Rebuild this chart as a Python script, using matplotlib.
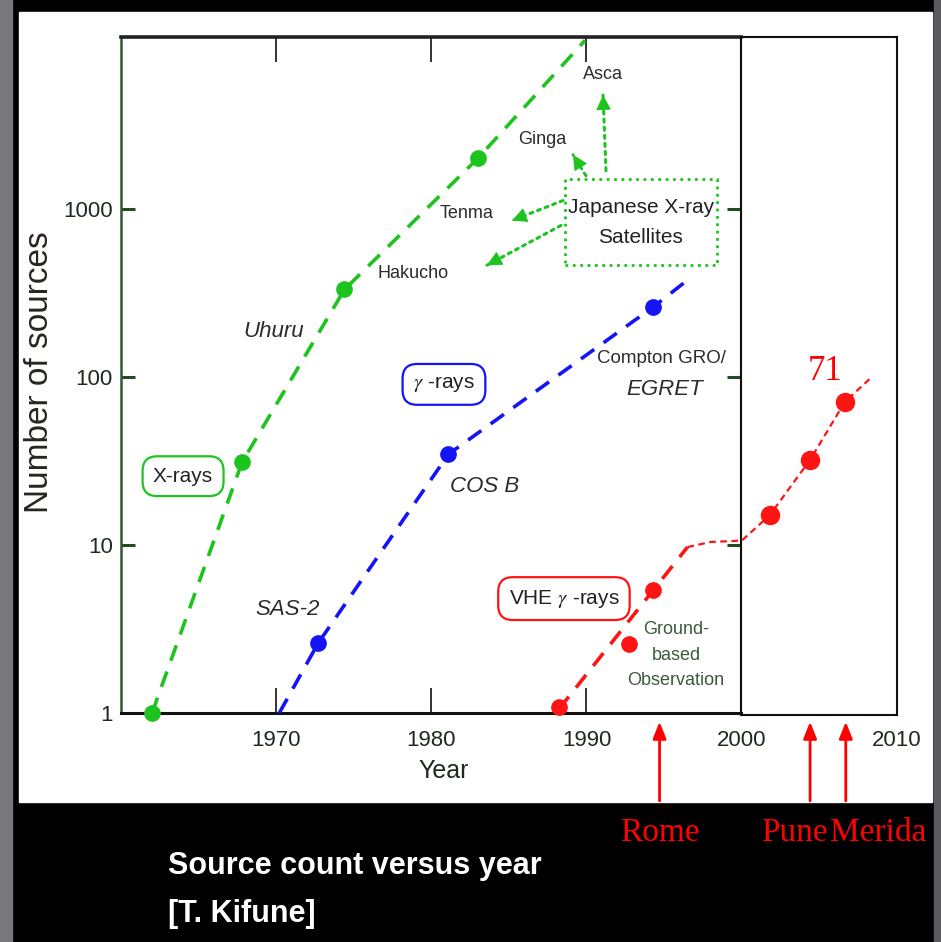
import matplotlib
matplotlib.use('Agg')
import matplotlib.pyplot as plt
from matplotlib.patches import Rectangle

# number of known sources per year (Kifune)
xray_year = [1962.0, 1967.8, 1974.4, 1983.0]
xray_count = [1, 31, 330, 1990]
xray_trend_year = [1962.0, 1967.8, 1974.4, 1983.0, 1989.9]
xray_trend_count = [1, 31, 330, 1990, 10000]

gamma_year = [1972.7, 1981.1, 1994.3]
gamma_count = [2.6, 34.6, 260]
gamma_trend_year = [1970.2, 1972.7, 1981.1, 1994.3, 1996.3]
gamma_trend_count = [1, 2.6, 34.6, 260, 363]

vhe_year = [1988.2, 1992.7, 1994.3, 2001.8, 2004.4, 2006.65]
vhe_count = [1.08, 2.57, 5.4, 15, 32, 71]
vhe_trend_year = [1988.2, 1996.5]
vhe_trend_count = [1.05, 9.7]
vhe_recent_year = [1996.5, 1998.0, 2000.0, 2001.8, 2004.4, 2006.65, 2008.4]
vhe_recent_count = [9.7, 10.4, 10.6, 15, 32, 71, 100]

conf_names = ['Rome', 'Pune', 'Merida']
conf_year = [1994.7, 2004.4, 2006.7]
conf_label_year = [1994.75, 2003.4, 2008.8]

year_ticks = [1970, 1980, 1990, 2000, 2010]
year_labels = ['1970', '1980', '1990', '2000', '2010']
count_ticks = [1, 10, 100, 1000]
count_labels = ['1', '10', '100', '1000']

GREEN = '#1ec41e'
BLUE = '#1414f5'
RED = '#ff1414'
INK = '#2b2b2b'
plt.rcParams['font.family'] = ['Liberation Sans', 'DejaVu Sans']
plt.rcParams['mathtext.fontset'] = 'stix'

W, H = 941, 942
YMAX = 10 ** 4.02


def box(l, t, r, b):
    return [l / W, 1 - b / H, (r - l) / W, (b - t) / H]


fig = plt.figure(figsize=(W / 100, H / 100), dpi=100, facecolor='black')
fig.add_artist(Rectangle((0, 0), 12 / W, 1, transform=fig.transFigure,
                         color='#78777c', zorder=0))
fig.add_artist(Rectangle((934 / W, 0), 7 / W, 1, transform=fig.transFigure,
                         color='#5c5a5f', zorder=0))
fig.add_artist(Rectangle((19 / W, 1 - 802 / H), (932 - 19) / W, (802 - 12) / H,
                         transform=fig.transFigure, color='white', zorder=0))

# frame of the main panel (1960-2000)
ax1 = fig.add_axes(box(121, 37, 741, 713))
ax1.set_xlim(1960, 2000)
ax1.set_yscale('log')
ax1.set_ylim(1, YMAX)
ax1.set_xticks([1970, 1980, 1990])
ax1.set_yticks([10, 100, 1000])
ax1.minorticks_off()
ax1.tick_params(axis='x', direction='in', top=True, bottom=True, length=18,
                width=1.3, color='#222222', labelbottom=False)
ax1.tick_params(axis='y', direction='in', left=True, right=True, length=10,
                width=2.2, color='#244a24', labelleft=False)
for side, c, lw in [('left', '#2f5a2f', 1.8), ('right', '#2f5a2f', 1.5),
                    ('top', '#222222', 2.6), ('bottom', '#111111', 2.2)]:
    ax1.spines[side].set_color(c)
    ax1.spines[side].set_linewidth(lw)

# added panel for 2000-2010
ax2 = fig.add_axes(box(741, 37, 897, 715))
ax2.set_xticks([])
ax2.set_yticks([])
ax2.patch.set_visible(False)
for s in ax2.spines.values():
    s.set_color('#111111')
    s.set_linewidth(1.5)

# data axes across the whole span
ax = fig.add_axes(box(121, 37, 897, 713))
ax.set_xlim(1960, 2010)
ax.set_yscale('log')
ax.set_ylim(1, YMAX)
ax.patch.set_visible(False)
for s in ax.spines.values():
    s.set_visible(False)
ax.set_xticks(year_ticks, year_labels)
ax.set_yticks(count_ticks, count_labels)
ax.minorticks_off()
ax.tick_params(axis='x', length=0, pad=12, labelsize=16, labelcolor='#1e2a1e')
ax.tick_params(axis='y', length=0, pad=6, labelsize=16, labelcolor='#1e2a1e')

ax.set_xlabel('Year', fontsize=18, color='#1e2a1e')
ax.xaxis.set_label_coords((444 - 121) / 776, -0.068)
fig.text(40 / W, 1 - 372 / H, 'Number of sources', rotation=90, ha='center',
         va='center', fontsize=24, color='#2a2420')

dash = (0, (4.5, 3.2))
ax.plot(xray_trend_year, xray_trend_count, color=GREEN, lw=2.6, ls=dash)
ax.plot(xray_year, xray_count, 'o', color=GREEN, ms=11, clip_on=False)
ax.plot(gamma_trend_year, gamma_trend_count, color=BLUE, lw=2.6, ls=dash)
ax.plot(gamma_year, gamma_count, 'o', color=BLUE, ms=11, clip_on=False)
ax.plot(vhe_trend_year, vhe_trend_count, color=RED, lw=2.6, ls=dash)
ax.plot(vhe_recent_year, vhe_recent_count, color=RED, lw=1.6, ls=(0, (3, 2)))
ax.plot(vhe_year[:3], vhe_count[:3], 'o', color=RED, ms=11, clip_on=False)
ax.plot(vhe_year[3:], vhe_count[3:], 'o', color=RED, ms=13)

# Japanese X-ray satellites
for name, x, y in [('Asca', 1991.06, 6300), ('Ginga', 1987.13, 2560),
                   ('Tenma', 1982.29, 935), ('Hakucho', 1978.81, 412)]:
    ax.text(x, y, name, fontsize=13, color=INK, ha='center', va='center')
ax.text(1993.5, 826, 'Japanese X-ray\nSatellites', fontsize=15, color='#222222',
        ha='center', va='center', linespacing=1.75)
ax.add_patch(Rectangle((1988.6, 460), 9.8, 1046, fill=False, ec=GREEN,
                       lw=2, ls=':'))
for start, end in [((1991.25, 1679), (1991.06, 4730)),
                   ((1989.96, 1567), (1989.12, 2088)),
                   ((1988.48, 1115), (1985.19, 849)),
                   ((1988.35, 793), (1983.58, 460))]:
    # dotted shaft, then a solid head at the tip
    ax.annotate('', xy=end, xytext=start,
                arrowprops=dict(arrowstyle='-', color=GREEN, lw=2.2, ls=':',
                                shrinkA=0, shrinkB=0))
    back = (end[0] + 0.03 * (start[0] - end[0]),
            end[1] * (start[1] / end[1]) ** 0.03)
    ax.annotate('', xy=end, xytext=back,
                arrowprops=dict(arrowstyle='-|>,head_length=0.7,head_width=0.35',
                                color=GREEN, lw=1, shrinkA=0, shrinkB=0,
                                mutation_scale=13))

# mission labels
for name, x, y in [('Uhuru', 1969.86, 185), ('COS B', 1983.45, 22.3),
                   ('SAS-2', 1970.76, 4.12), ('EGRET', 1995.05, 83.8)]:
    ax.text(x, y, name, fontsize=16, style='italic', color=INK,
            ha='center', va='center')
ax.text(1994.85, 128, 'Compton GRO/', fontsize=13.5, color=INK,
        ha='center', va='center')
ax.text(1995.76, 2.2, 'Ground-\nbased\nObservation', fontsize=13,
        color='#3c5a3c', ha='center', va='center', linespacing=1.65)

for txt, x, y, c in [('X-rays', 1964.0, 25.6, GREEN),
                     (r'$\gamma$ -rays', 1980.81, 90, BLUE),
                     (r'VHE $\gamma$ -rays', 1988.54, 4.79, RED)]:
    ax.text(x, y, txt, fontsize=15, color='#222222', ha='center', va='center',
            bbox=dict(boxstyle='round,pad=0.5,rounding_size=0.7', fc='white',
                      ec=c, lw=1.6))

ax.text(2005.4, 107, '71', fontsize=25, color='#ff0000', ha='center',
        va='center', family=['Liberation Serif', 'DejaVu Serif'])

# ICRC meetings
xt = ax.get_xaxis_transform()
for name, x, lx in zip(conf_names, conf_year, conf_label_year):
    ax.annotate('', xy=(x, -0.013), xytext=(x, -0.13), xycoords=xt,
                textcoords=xt, annotation_clip=False,
                arrowprops=dict(arrowstyle='-|>,head_length=0.5,head_width=0.2',
                                color='#ff0000', lw=2, shrinkA=0, shrinkB=0,
                                mutation_scale=20))
    ax.text(lx, -0.1775, name, transform=xt, fontsize=24, color='#ff0000',
            ha='center', va='center', family=['Liberation Serif', 'DejaVu Serif'])

fig.text(168 / W, 1 - 866 / H, 'Source count versus year', color='white',
         fontsize=22, fontweight='bold', va='center')
fig.text(168 / W, 1 - 914 / H, '[T. Kifune]', color='white',
         fontsize=22, fontweight='bold', va='center')

fig.savefig('out.png', dpi=100, facecolor=fig.get_facecolor())
